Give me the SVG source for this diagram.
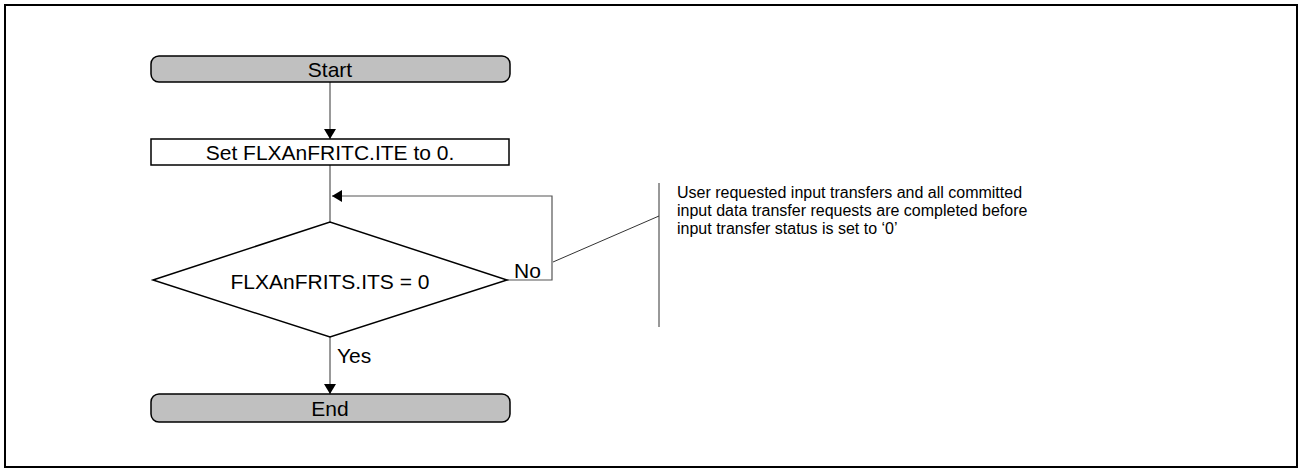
<svg xmlns="http://www.w3.org/2000/svg" width="1300" height="472" viewBox="0 0 1300 472">
<style>
text{font-family:"Liberation Sans",Arial,sans-serif;font-size:21px;fill:#000}
.note{font-size:16px}
.term{fill:#c0c0c0;stroke:#000;stroke-width:1.5}
.box{fill:#fff;stroke:#000;stroke-width:1.5}
.con{fill:none;stroke:#555;stroke-width:1.2}
.thin{fill:none;stroke:#333;stroke-width:1}
</style>
<defs>
<marker id="ah" viewBox="0 0 10 12" refX="10" refY="6" markerWidth="10" markerHeight="12" markerUnits="userSpaceOnUse" orient="auto">
<path d="M0,0 L10,6 L0,12 z" fill="#000"/>
</marker>
</defs>
<rect x="5" y="5" width="1292" height="462" fill="#fff" stroke="#000" stroke-width="2"/>
<g id="connectors">
<line class="con" x1="330" y1="82" x2="330" y2="139" marker-end="url(#ah)"/>
<line class="con" x1="330" y1="165" x2="330" y2="222"/>
<polyline class="con" points="507,280 552,280 552,196 332,196" marker-end="url(#ah)"/>
<line class="con" x1="330" y1="337" x2="330" y2="394" marker-end="url(#ah)"/>
<line class="thin" x1="553" y1="262" x2="659" y2="216"/>
<line class="thin" x1="659" y1="183" x2="659" y2="327"/>
<text x="514" y="278">No</text>
<text x="337" y="363">Yes</text>
</g>
<g id="start">
<rect class="term" x="151" y="56" width="359" height="26" rx="8"/>
<text x="330" y="77" text-anchor="middle">Start</text>
</g>
<g id="set">
<rect class="box" x="151" y="139" width="358" height="26"/>
<text x="330" y="160" text-anchor="middle">Set FLXAnFRITC.ITE to 0.</text>
</g>
<g id="decision">
<polygon class="box" points="153,280 330,222 507,280 330,337"/>
<text x="330" y="289" text-anchor="middle">FLXAnFRITS.ITS = 0</text>
</g>
<g id="end">
<rect class="term" x="151" y="394" width="359" height="28" rx="8"/>
<text x="330" y="416" text-anchor="middle">End</text>
</g>
<g id="note">
<text class="note" x="677" y="198">User requested input transfers and all committed</text>
<text class="note" x="677" y="216">input data transfer requests are completed before</text>
<text class="note" x="677" y="234">input transfer status is set to ‘0’</text>
</g>
</svg>
